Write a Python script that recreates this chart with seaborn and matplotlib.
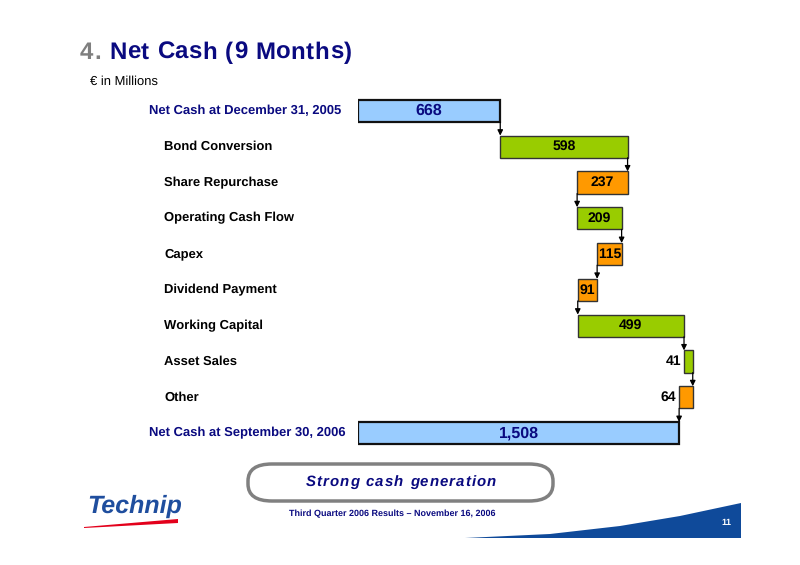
import numpy as np
import pandas as pd
import seaborn as sns
import matplotlib.pyplot as plt
from matplotlib import transforms
from matplotlib.patches import FancyBboxPatch, Polygon

# data
labels = ["Net Cash at December 31, 2005", "Bond Conversion", "Share Repurchase",
          "Operating Cash Flow", "Capex", "Dividend Payment", "Working Capital",
          "Asset Sales", "Other", "Net Cash at September 30, 2006"]
values = [668, 598, -237, 209, -115, -91, 499, 41, -64, 1508]
value_text = ["668", "598", "237", "209", "115", "91", "499", "41", "64", "1,508"]
kinds = ["total", "up", "down", "up", "down", "down", "up", "up", "down", "total"]

colors = {"total": "#99CCFF", "up": "#99CC00", "down": "#FF9900"}
navy = "#0A0A80"

# running totals -> left edge of each bar
lefts, widths, ends = [], [], []
run = 0
for v, k in zip(values, kinds):
    if k == "total":
        lefts.append(0)
        widths.append(v)
        run = v
    else:
        new = run + v
        lefts.append(min(run, new))
        widths.append(abs(v))
        run = new
    ends.append(run)

df = pd.DataFrame({"label": labels, "width": widths, "left": lefts, "kind": kinds})

sns.set_style("white")
plt.rcParams["font.family"] = ["Liberation Sans", "DejaVu Sans"]
plt.rcParams["text.hinting"] = "no_hinting"
plt.rcParams["text.hinting_factor"] = 1

W, H = 800, 565
fig = plt.figure(figsize=(W / 100, H / 100), dpi=100)
renderer = fig.canvas.get_renderer()


def fx(px):
    return px / W


def fy(py):
    return 1 - py / H


def text_width(s, **kw):
    t = fig.text(0, 0, s, **kw)
    w = t.get_window_extent(renderer).width
    t.remove()
    return w


def spaced_text(x_px, y_px, s, gap, ha="left", **kw):
    """text with extra letter spacing (gap in pixels)"""
    ref = text_width("x", **kw)
    adv = [text_width(s[:i] + "x", **kw) - ref for i in range(len(s) + 1)]
    total = adv[-1] + gap * (len(s) - 1)
    if ha == "center":
        x_px -= total / 2
    for i, ch in enumerate(s):
        if ch != " ":
            fig.text(fx(x_px + adv[i] + gap * i), fy(y_px), ch, ha="left",
                     va="center", **kw)


ax = fig.add_axes([fx(358), fy(451), fx(720) - fx(358), fy(93) - fy(451)])
bh = 0.62
sns.barplot(data=df, x="width", y="label", orient="h", ax=ax, width=bh,
            color="white", edgecolor="black", linewidth=1.0, saturation=1)
for p, l, k in zip(ax.patches, df["left"], df["kind"]):
    p.set_x(l)
    p.set_facecolor(colors[k])
    if k == "total":
        p.set_linewidth(1.6)
        p.set_edgecolor("#111111")
    else:
        p.set_edgecolor("#333333")

ax.set_xlim(0, 1700)
ax.set_ylim(9.5, -0.5)
ax.set_xlabel("")
ax.set_ylabel("")
ax.set_xticks([])
ax.set_yticks([])
sns.despine(ax=ax, left=True, bottom=True)

# connector arrows
for i in range(len(values) - 1):
    x = ends[i]
    ax.annotate("", xy=(x, i + 1 - bh / 2), xytext=(x, i + bh / 2),
                arrowprops=dict(arrowstyle="-|>", color="black", lw=0.9,
                                mutation_scale=8, shrinkA=0, shrinkB=0))

# value labels
for i, (l, w, k, t) in enumerate(zip(lefts, widths, kinds, value_text)):
    if k == "total":
        ax.text(l + w / 2, i, t, ha="center", va="center", fontsize=11.5,
                fontweight="bold", color=navy)
    elif w < 80:
        ax.text(l - 14, i, t, ha="right", va="center", fontsize=10,
                fontweight="bold", color="black")
    else:
        ax.text(l + w / 2, i, t, ha="center", va="center", fontsize=10,
                fontweight="bold", color="black")

# row labels
tr = transforms.blended_transform_factory(fig.transFigure, ax.transData)
for i, (lab, k) in enumerate(zip(labels, kinds)):
    if k == "total":
        ax.text(fx(149), i, lab, transform=tr, ha="left", va="center",
                fontsize=9.5, fontweight="bold", color=navy)
    else:
        ax.text(fx(164), i, lab, transform=tr, ha="left", va="center",
                fontsize=9.5, fontweight="bold", color="black")

# title
spaced_text(80, 53, "4.", 0.6, fontsize=17, fontweight="bold", color="#7F7F7F")
spaced_text(109, 53, "Net Cash (9 Months)", 0.6, fontsize=17,
            fontweight="bold", color=navy)
fig.text(fx(90), fy(82), "€ in Millions", fontsize=9, color="black",
         va="center", ha="left")

# bottom banner
box = FancyBboxPatch((fx(248), fy(501)), fx(553) - fx(248), fy(464) - fy(501),
                     boxstyle="round,pad=0,rounding_size=0.03",
                     transform=fig.transFigure, facecolor="white",
                     edgecolor="#808080", linewidth=2.5)
fig.patches.append(box)
spaced_text(401, 482, "Strong cash generation", 1.1, ha="center", fontsize=11,
            fontweight="bold", fontstyle="italic", color=navy)
fig.text(fx(392), fy(514), "Third Quarter 2006 Results \u2013 November 16, 2006",
         fontsize=6.5, fontweight="bold", color=navy, ha="center", va="center")

# logo
fig.text(fx(87), fy(506), "Technip", fontsize=18, fontweight="bold",
         fontstyle="italic", color="#1F4E9E", ha="left", va="center")
red = Polygon([(fx(84), fy(527)), (fx(178), fy(519)), (fx(178), fy(523)),
               (fx(84), fy(528))], closed=True, transform=fig.transFigure,
              facecolor="#E3001B", edgecolor="none")
fig.patches.append(red)

# blue wedge with page number
wedge = Polygon([(fx(465), fy(538)), (fx(550), fy(534)), (fx(620), fy(526)),
                 (fx(680), fy(516)), (fx(741), fy(503)), (fx(741), fy(538))],
                closed=True, transform=fig.transFigure,
                facecolor="#0F4A9A", edgecolor="none")
fig.patches.append(wedge)
fig.text(fx(726), fy(523), "11", fontsize=6.5, fontweight="bold", color="white",
         ha="center", va="center")

fig.savefig("out.png", dpi=100, facecolor="white")
